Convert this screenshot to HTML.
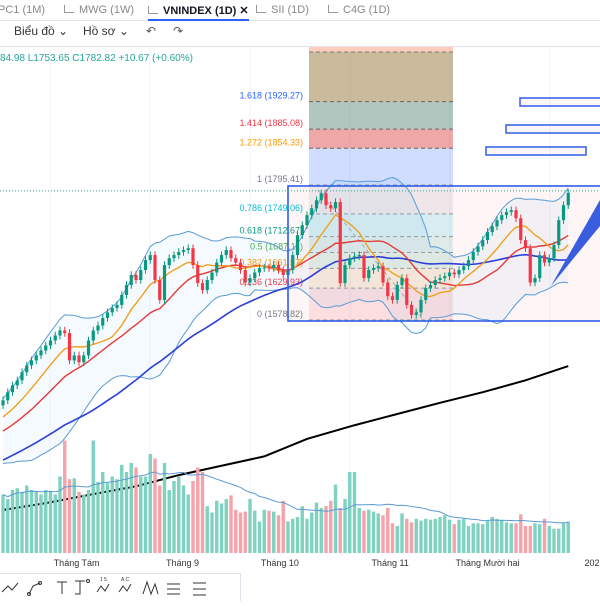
<!DOCTYPE html>
<html><head><meta charset="utf-8">
<style>
body{margin:0;width:600px;height:600px;overflow:hidden;background:#fff;font-family:"Liberation Sans","Noto Sans CJK SC",sans-serif;position:relative}
.tabs{position:absolute;left:0;top:0;width:600px;height:20px;border-bottom:1px solid #e0e3eb;font-size:11px;color:#888;}
.tab{position:absolute;top:4px;white-space:nowrap}
.tab.active{color:#131722;font-weight:bold;border-bottom:2px solid #2962ff;padding-bottom:2px}
.ico{display:inline-block;width:9px;height:7px;border-left:1px solid #999;border-bottom:1px solid #999;margin-right:5px}
.tb{position:absolute;top:24px;font-size:12px;color:#333}
.ohlc{position:absolute;left:0;top:53px;font-size:10px;color:#26a69a}
svg{position:absolute;left:0;top:0}
.tools{position:absolute;left:0;top:573px;width:240px;height:27px;border-top:1px solid #e0e3eb;border-right:1px solid #e0e3eb;background:#fff}
</style></head><body>
<div class="tabs">
<span class="tab" style="left:-2px">PC1 (1M)</span>
<span class="tab" style="left:64px"><i class="ico"></i>MWG (1W)</span>
<span class="tab active" style="left:148px"><i class="ico"></i>VNINDEX (1D) ✕</span>
<span class="tab" style="left:256px"><i class="ico"></i>SII (1D)</span>
<span class="tab" style="left:328px"><i class="ico"></i>C4G (1D)</span>
</div>
<span class="tb" style="left:14px">Biểu đồ ⌄</span>
<span class="tb" style="left:83px">Hồ sơ ⌄</span>
<span class="tb" style="left:146px;color:#555">↶</span>
<span class="tb" style="left:173px;color:#555">↷</span>
<div style="position:absolute;left:0;top:46px;width:600px;height:1px;background:#e0e3eb"></div>
<div class="ohlc">84.98 L1753.65 C1782.82 +10.67 (+0.60%)</div>
<svg id="chart" width="600" height="600"></svg>
<div class="tools">
<svg width="240" height="27" style="position:relative">
<g stroke="#333" fill="none" stroke-width="1">
<path d="M2 18 L8 12 L12 16 L18 9"/>
<path d="M29 20 L33 12 L40 9"/><circle cx="29" cy="20" r="1.5"/><circle cx="40" cy="9" r="1.5"/>
<path d="M57 8 L67 8 M62 8 L62 20"/>
<path d="M75 7 L85 7 M80 7 L80 20 L75 20"/><circle cx="88" cy="7" r="1.5"/>
<path d="M97 18 L101 12 L105 17 L109 10"/>
<path d="M119 18 L123 12 L127 17 L131 10"/>
<path d="M143 20 L147 8 L151 20 L155 10 L158 20"/>
<path d="M167 10 L180 10 M167 15 L180 15 M167 20 L180 20"/>
<path d="M193 9 L206 9 M193 15 L206 15 M193 21 L206 21"/>
</g>
<text x="100" y="7" font-size="5" fill="#333">1 5</text><text x="121" y="7" font-size="5" fill="#333">A C</text>
</svg></div>
<script>
const prefixCloses=[1210,1225,1230,1220,1240,1250,1245,1260,1270,1265,1270,1280,1275,1290,1300,1295,1305,1310,1300,1310,1315,1320,1310,1315,1330,1325,1320,1330,1340,1335,1330,1325,1335,1345,1350,1340,1345,1355,1360,1350,1355,1365,1370,1365,1375,1380,1385,1375,1380,1390,1395,1400,1410,1405,1415,1420,1425,1430,1435,1442];
const closes=[1450,1463,1474,1482,1495,1506,1514,1522,1530,1538,1546,1554,1562,1558,1514,1522,1511,1522,1546,1562,1570,1582,1591,1598,1603,1619,1635,1651,1643,1659,1675,1683,1643,1611,1667,1678,1683,1688,1691,1694,1667,1638,1627,1643,1655,1671,1683,1691,1678,1671,1659,1639,1646,1655,1662,1663,1662,1667,1659,1651,1659,1683,1715,1731,1747,1758,1771,1782,1763,1758,1768,1638,1667,1678,1681,1683,1646,1659,1662,1665,1639,1617,1611,1635,1646,1603,1587,1591,1611,1630,1635,1643,1646,1649,1655,1652,1659,1665,1675,1688,1697,1707,1720,1729,1739,1747,1752,1755,1742,1707,1694,1639,1646,1683,1671,1678,1699,1739,1763,1782.82];
const volumes=[650,600,700,720,680,750,700,680,650,700,680,650,850,1250,820,830,680,650,700,1250,790,900,780,850,820,980,900,1000,950,850,850,1100,1050,750,1000,700,800,850,750,650,800,950,900,520,450,580,550,600,640,480,450,460,600,470,350,480,470,460,420,580,350,380,400,520,380,450,560,500,520,580,760,500,600,900,900,500,470,480,460,440,420,500,330,300,440,380,340,380,360,380,370,380,400,420,370,320,370,380,300,330,330,320,360,400,380,370,340,330,330,430,300,300,330,320,380,300,270,270,330,350];
const ma200Idx=[0,9,18,28,37,46,55,64,74,83,92,101,110,119];
const ma200Values=[1274,1285,1298,1312,1330,1345,1360,1388,1410,1428,1446,1463,1482,1505];
const fibLevels=[0,0.236,0.382,0.5,0.618,0.786,1,1.272,1.414,1.618];
const fibPrices=[1578.82,1629.93,1661.57,1687.11,1712.67,1749.06,1795.41,1854.33,1885.08,1929.27];
const monthLabels=["Tháng Tám","Tháng 9","Tháng 10","Tháng 11","Tháng Mười hai","202"];
const monthIdx=[15.5,37.8,58.3,81.5,102,124];

const svg=document.getElementById('chart');const NS='http://www.w3.org/2000/svg';
function mk(t,a,p){const e=document.createElementNS(NS,t);for(const k in a)e.setAttribute(k,a[k]);(p||svg).appendChild(e);return e;}
const xS=i=>3+i*4.75;
const yS=p=>185-(p-1795.41)*0.6233;
const vBase=553, vS=v=>vBase-v*0.09;
const all=prefixCloses.concat(closes);const P=prefixCloses.length;
function sma(arr,n,i){let s=0,c=0;for(let k=Math.max(0,i-n+1);k<=i;k++){s+=arr[k];c++;}return s/c;}
function sd(arr,n,i,m){let s=0,c=0;for(let k=Math.max(0,i-n+1);k<=i;k++){s+=(arr[k]-m)**2;c++;}return Math.sqrt(s/c);}

[50,150,250,350,450,550].forEach(x=>{const l=mk('line',{x1:x,y1:47,x2:x,y2:555,stroke:'#f0f3fa'});});
const zx1=309,zx2=453;
const zoneCols=['rgba(242,54,69,0.12)','rgba(255,152,0,0.12)','rgba(76,175,80,0.12)','rgba(8,153,129,0.12)','rgba(0,188,212,0.15)','rgba(120,120,140,0.12)','rgba(41,98,255,0.22)','rgba(220,60,60,0.45)','rgba(70,120,100,0.42)','rgba(150,120,60,0.5)'];
const rect=mk('rect',{x:288,y:186,width:320,height:135,fill:'rgba(242,54,69,0.05)',stroke:'none'});

for(let k=0;k<fibLevels.length;k++){
  const lo=fibPrices[k], hi=k<fibPrices.length-1?fibPrices[k+1]:2009;
  const r=mk('rect',{x:zx1,y:yS(hi),width:zx2-zx1,height:yS(lo)-yS(hi),fill:zoneCols[k]});
  
}
mk('rect',{x:zx1,y:47,width:zx2-zx1,height:5,fill:'rgba(255,130,90,0.4)'});
mk('line',{x1:zx1,y1:52,x2:zx2,y2:52,stroke:'#777','stroke-dasharray':'4 3'});
const fibColors=['#787b86','#f23645','#ff9800','#4caf50','#089981','#00bcd4','#787b86','#ff9800','#f23645','#2962ff'];
for(let k=0;k<fibLevels.length;k++){
  const y=yS(fibPrices[k]);
  const l=mk('line',{x1:zx1,y1:y,x2:zx2,y2:y,stroke:k>=7?'#666':'#999','stroke-dasharray':'4 3','stroke-width':1});
  
  const t=mk('text',{x:303,y:y-3,'text-anchor':'end','font-size':9,fill:fibColors[k]});
  t.textContent=fibLevels[k]+' ('+fibPrices[k].toFixed(2)+')';
  
}
mk('line',{x1:318,y1:190,x2:425,y2:322,stroke:'#aaa','stroke-dasharray':'4 3'});
let up=[],lo=[];
for(let i=0;i<closes.length;i++){const g=P+i;const m=sma(all,20,g);const s=sd(all,20,g,m);up.push([xS(i),yS(m+2*s)]);lo.push([xS(i),yS(m-2*s)]);}
const bf=mk('path',{d:'M'+up.map(p=>p.join(',')).join('L')+'L'+lo.slice().reverse().map(p=>p.join(',')).join('L')+'Z',fill:'rgba(33,150,243,0.05)'});

[up,lo].forEach(a=>{const b=mk('polyline',{points:a.map(p=>p.join(',')).join(' '),fill:'none',stroke:'#5b9bd5','stroke-width':1});});
function line(n,col,w,name){const pts=[];for(let i=0;i<closes.length;i++)pts.push(xS(i)+','+yS(sma(all,n,P+i)));const e=mk('polyline',{points:pts.join(' '),fill:'none',stroke:col,'stroke-width':w});}
line(50,'#2a3fd6',1.6,'ma50-line');
line(20,'#e53935',1.4,'ma20-line');
line(10,'#f0a020',1.4,'ma10-line');
const m2=mk('polyline',{points:ma200Values.map((v,k)=>xS(ma200Idx[k])+','+yS(v)).join(' '),fill:'none',stroke:'#000','stroke-width':2});

const vma=[];
for(let i=0;i<volumes.length;i++){
  const o=i?closes[i-1]:prefixCloses[P-1];const up2=closes[i]>=o;
  const b=mk('rect',{x:xS(i)-1.7,y:vS(volumes[i]),width:3.4,height:vBase-vS(volumes[i]),fill:up2?'#7fd1c0':'#f5a3aa'});
  
  vma.push(xS(i)+','+vS(sma(volumes,20,i)));
}
const vl=mk('polyline',{points:vma.join(' '),fill:'none',stroke:'#5b9bd5','stroke-width':1});
for(let i=0;i<closes.length;i++){
  const o=i?closes[i-1]:prefixCloses[P-1],c=closes[i];const upc=c>=o;const col=upc?'#089981':'#f23645';
  const hi=Math.max(o,c)+6,lw=Math.min(o,c)-6;
  const w=mk('line',{x1:xS(i),y1:yS(hi),x2:xS(i),y2:yS(lw),stroke:col,'stroke-width':1});
  
  const r=mk('rect',{x:xS(i)-1.6,y:yS(Math.max(o,c)),width:3.2,height:Math.max(1,Math.abs(yS(o)-yS(c))),fill:col});
  
}
const bx=mk('rect',{x:288,y:186,width:320,height:135,fill:'none',stroke:'#2f5ee8','stroke-width':1.6});

mk('line',{x1:0,y1:yS(1782.82)-2,x2:600,y2:yS(1782.82)-2,stroke:'#26a69a','stroke-dasharray':'1 2','stroke-width':1});
[[520,98],[506,125],[486,147]].forEach(a=>{const r=mk('rect',{x:a[0],y:a[1],width:100,height:8,fill:'rgba(242,54,69,0.05)',stroke:'#2f5ee8','stroke-width':1.5});});
const wg=mk('polygon',{points:'551,286 600,200 600,226',fill:'#3a5de0'});
monthLabels.forEach((t,k)=>{const e=mk('text',{x:xS(monthIdx[k]),y:566,'text-anchor':'middle','font-size':9,fill:'#333'});e.textContent=t;});
</script>
</body></html>
